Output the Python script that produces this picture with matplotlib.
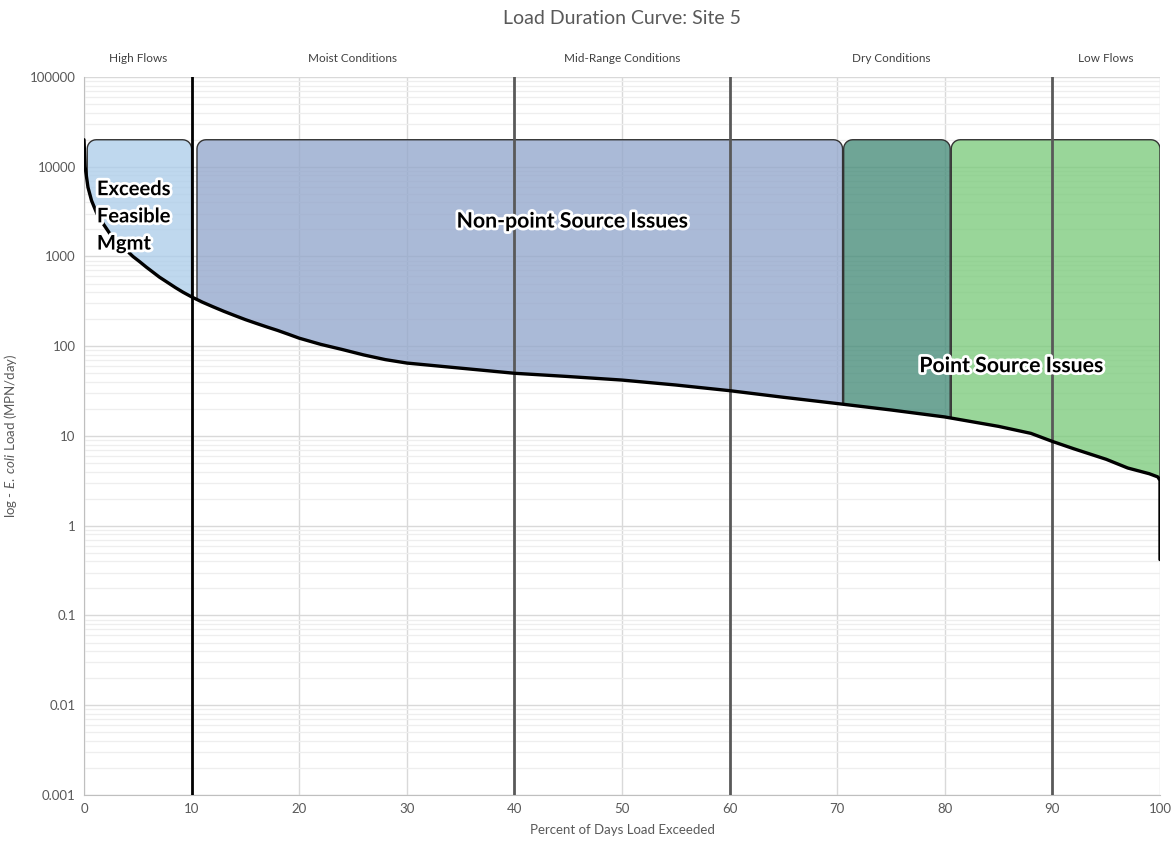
import numpy as np
import matplotlib
matplotlib.use("Agg")
import matplotlib.pyplot as plt
import matplotlib.patheffects as pe
from matplotlib.patches import Polygon
from matplotlib.ticker import FixedLocator, FixedFormatter, LogLocator, NullFormatter

plt.rcParams['font.family'] = ['Lato', 'DejaVu Sans']
plt.rcParams['mathtext.fontset'] = 'custom'
plt.rcParams['mathtext.rm'] = 'Lato'
plt.rcParams['mathtext.it'] = 'Lato:italic'

# ---- data ----
pct = [0, 0.1, 0.37, 0.7, 1.2, 1.8, 2.4, 3.0, 3.7, 4.55, 5.2, 5.8, 6.4, 7.0, 7.7, 8.5, 9.2, 10,
       11, 12, 13, 14, 15, 16, 17, 18, 19, 20, 22, 24, 26, 28, 30, 35, 40, 45, 50, 55,
       60, 65, 70, 75, 80, 85, 88, 90, 92, 95, 97, 99, 99.8, 100, 100]
load = [20000, 10000, 5900, 4200, 3000, 2300, 1800, 1500, 1250, 1000, 870, 760, 670, 590, 520, 450, 400, 355,
        310, 275, 245, 220, 198, 180, 164, 150, 136, 123, 105, 92, 80, 71, 65, 57, 50, 46, 42, 37,
        32, 27, 23, 19.5, 16.3, 12.8, 10.7, 8.7, 7.2, 5.5, 4.4, 3.8, 3.5, 3.2, 0.42]

zone_names = ["Exceeds Feasible Mgmt", "Non-point Source Issues", "Transition", "Point Source Issues"]
zone_left = [0.3, 10.5, 70.6, 80.6]
zone_right = [10.0, 70.5, 80.5, 100.0]
zone_top = [20000, 20000, 20000, 20000]
zone_colors = ["#adcdea", "#93a7cc", "#468c79", "#7ccb7c"]

cond_labels = ["High Flows", "Moist Conditions", "Mid-Range Conditions", "Dry Conditions", "Low Flows"]
cond_pos = [5, 25, 50, 75, 95]
div_lines = [10, 40, 60, 90]
div_colors = ["#000000", "#595959", "#595959", "#595959"]

yticks = [0.001, 0.01, 0.1, 1, 10, 100, 1000, 10000, 100000]
ytick_labels = ["0.001", "0.01", "0.1", "1", "10", "100", "1000", "10000", "100000"]
xticks = [0, 10, 20, 30, 40, 50, 60, 70, 80, 90, 100]

# ---- figure ----
W, H = 1175, 846
fig = plt.figure(figsize=(W / 100, H / 100), dpi=100)
L, R, T, B = 84, 1160, 77, 795
ax = fig.add_axes([L / W, 1 - B / H, (R - L) / W, (B - T) / H])
ax.set_yscale("log")
ax.set_xlim(0, 100)
ax.set_ylim(0.001, 100000)

grid_c = "#d9d9d9"
ax.xaxis.set_major_locator(FixedLocator(xticks))
ax.yaxis.set_major_locator(FixedLocator(yticks))
ax.yaxis.set_major_formatter(FixedFormatter(ytick_labels))
ax.yaxis.set_minor_locator(LogLocator(base=10, subs=np.arange(2, 10)))
ax.yaxis.set_minor_formatter(NullFormatter())
ax.grid(True, which="major", axis="both", color=grid_c, lw=1, zorder=0)
ax.grid(True, which="minor", axis="y", color="#eeeeee", lw=0.9, zorder=0)
ax.set_axisbelow(True)
ax.tick_params(which="both", length=0, colors="#595959", labelsize=9.5, pad=6)
for s in ["top", "right"]:
    ax.spines[s].set_visible(False)
for s in ["left", "bottom"]:
    ax.spines[s].set_color("#bfbfbf")

# ---- zone polygons with rounded top corners (axes-fraction space) ----
lp = np.log10(np.array(load, dtype=float))
px = np.array(pct, dtype=float)
ymin, ymax = -3.0, 5.0
def fy(v):
    return (np.log10(v) - ymin) / (ymax - ymin)

rx = 9 / (R - L)
ry = 9 / (B - T)
for xl, xr, top, col in zip(zone_left, zone_right, zone_top, zone_colors):
    mask = (px > xl) & (px < xr)
    xs = np.concatenate([[xl], px[mask], [xr]])
    ys = np.interp(xs, px[:-1], lp[:-1])
    bottom = [(x / 100, (y - ymin) / (ymax - ymin)) for x, y in zip(xs, ys)]
    ty = fy(top)
    th = np.linspace(0, np.pi / 2, 8)
    right_arc = [(xr / 100 - rx + rx * np.cos(t), ty - ry + ry * np.sin(t)) for t in th]
    left_arc = [(xl / 100 + rx - rx * np.sin(t), ty - ry + ry * np.cos(t)) for t in th]
    verts = bottom + right_arc + left_arc
    poly = Polygon(verts, closed=True, transform=ax.transAxes, facecolor=col, alpha=0.78,
                   edgecolor="none", zorder=2)
    ax.add_patch(poly)
    outline = [(xs[0] / 100, bottom[0][1])] + left_arc[::-1] + right_arc[::-1] + [(xr / 100, bottom[-1][1])]
    ox, oy = zip(*outline)
    ax.plot(ox, oy, transform=ax.transAxes, color="#333333", lw=1.0, zorder=3)

# ---- divider lines ----
for x, c in zip(div_lines, div_colors):
    ax.axvline(x, color=c, lw=2, zorder=4)

# ---- curve ----
ax.plot(pct, load, color="#000000", lw=2.4, zorder=5, solid_capstyle="round", solid_joinstyle="round")

# ---- labels ----
glow = [pe.withStroke(linewidth=4, foreground="white")]
ax.text(1.2, 2800, "Exceeds\nFeasible\nMgmt", fontsize=14.5, fontweight="bold", color="black",
        ha="left", va="center", linespacing=1.45, path_effects=glow, zorder=6)
ax.text(45.4, 2450, "Non-point Source Issues", fontsize=15.3, fontweight="bold", color="black",
        ha="center", va="center", path_effects=glow, zorder=6)
ax.text(86.2, 60, "Point Source Issues", fontsize=15.3, fontweight="bold", color="black",
        ha="center", va="center", path_effects=glow, zorder=6)

trans = ax.get_xaxis_transform()
for name, x in zip(cond_labels, cond_pos):
    ax.text(x, 1.026, name, transform=trans, ha="center", va="center", fontsize=8.5,
            color="#404040")

fig.text((L + R) / 2 / W, 1 - 18 / H, "Load Duration Curve: Site 5", ha="center", va="center",
         fontsize=14, color="#595959")
ax.set_xlabel("Percent of Days Load Exceeded", fontsize=9.5, color="#595959", labelpad=6)
ax.set_ylabel(r"log - $\mathit{E.}$ $\mathit{coli}$ Load (MPN/day)", fontsize=9.5, color="#595959", labelpad=8)

fig.savefig("out.png", dpi=100)
